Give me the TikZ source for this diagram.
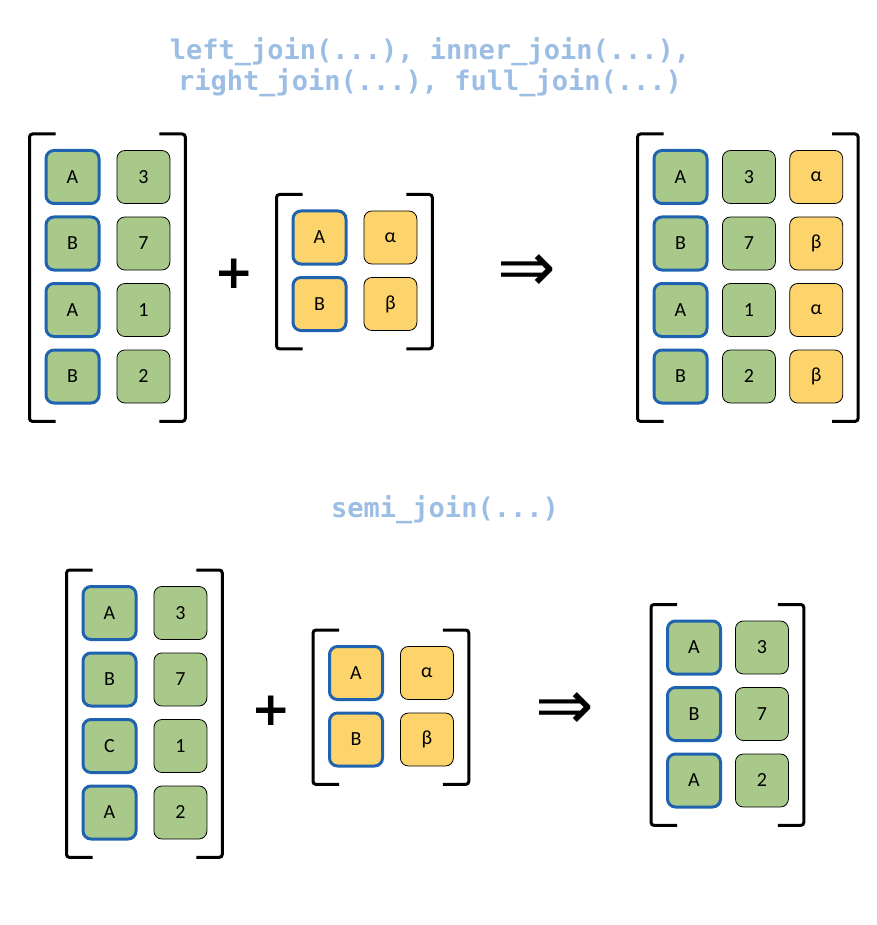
\documentclass[tikz,border=0pt]{standalone}
\usepackage{fontspec}
\setmainfont{Carlito}
\newfontfamily\codefont{DejaVu Sans Mono}
\newfontfamily\symfont{DejaVu Sans}
\usetikzlibrary{positioning,calc}

\definecolor{keyblue}{RGB}{31,99,176}
\definecolor{cellgreen}{RGB}{169,201,139}
\definecolor{cellyellow}{RGB}{253,212,108}
\definecolor{titleblue}{RGB}{157,190,228}

\tikzset{
  cell/.style={rectangle, rounded corners=8pt, minimum size=53pt, inner sep=0pt,
    font=\fontsize{20}{24}\selectfont},
  key/.style={cell, draw=keyblue, line width=3pt, fill=cellgreen},
  val/.style={cell, draw=black, line width=0.8pt, fill=cellgreen},
  extkey/.style={cell, draw=keyblue, line width=3pt, fill=cellyellow},
  ext/.style={cell, draw=black, line width=0.8pt, fill=cellyellow},
  brk/.style={line width=3pt, rounded corners=3pt},
  fname/.style={font=\codefont\bfseries\fontsize{27}{31}\selectfont,
    text=titleblue, align=center},
  plusop/.style={font=\symfont\bfseries\fontsize{47}{47}\selectfont, inner sep=0pt},
  arrowop/.style={font=\symfont\fontsize{70}{70}\selectfont, inner sep=0pt},
}

% brackets round a table, from its first to its last cell
\newcommand{\matbrackets}[2]{%
  \coordinate (tl) at ($(#1.north west)+(-15,-15)$);
  \coordinate (br) at ($(#2.south east)+(15,18)$);
  \draw[brk] ($(tl)+(26,0)$) -- (tl) -- (tl|-br) -- ++(26,0);
  \draw[brk] ($(br|-tl)+(-26,0)$) -- (br|-tl) -- (br) -- ++(-26,0);
}

\begin{document}
\begin{tikzpicture}[x=1pt, y=-1pt, node distance=10.5pt and 16pt]
\useasboundingbox (0,0) rectangle (876,925);

\node[fname] (joins) at (430,67.5)
  {left\_join(...), inner\_join(...),\\right\_join(...), full\_join(...)};

% left table
\node[key] (a1) at (72.5,177) {A};
\node[key, below=of a1] (a2) {B};
\node[key, below=of a2] (a3) {A};
\node[key, below=of a3] (a4) {B};
\node[val, right=of a1] (n1) {3};
\node[val, right=of a2] (n2) {7};
\node[val, right=of a3] (n3) {1};
\node[val, right=of a4] (n4) {2};
\matbrackets{a1}{n4}

\node[plusop] (plus1) at (234.5,273.5) {+};

% lookup table
\node[extkey] (b1) at (319.5,237.5) {A};
\node[extkey, below=of b1] (b2) {B};
\node[ext, right=of b1] (g1) {α};
\node[ext, right=of b2] (g2) {β};
\matbrackets{b1}{g2}

\node[arrowop] (to1) at (527,273) {⇒};

% joined table
\node[key] (c1) at (680.5,177) {A};
\node[key, below=of c1] (c2) {B};
\node[key, below=of c2] (c3) {A};
\node[key, below=of c3] (c4) {B};
\node[val, right=13.5pt of c1] (m1) {3};
\node[val, right=13.5pt of c2] (m2) {7};
\node[val, right=13.5pt of c3] (m3) {1};
\node[val, right=13.5pt of c4] (m4) {2};
\node[ext, right=13.5pt of m1] (h1) {α};
\node[ext, right=13.5pt of m2] (h2) {β};
\node[ext, right=13.5pt of m3] (h3) {α};
\node[ext, right=13.5pt of m4] (h4) {β};
\matbrackets{c1}{h4}

\node[fname] (semi) at (445,509.5) {semi\_join(...)};

% left table
\node[key] (d1) at (109.5,613) {A};
\node[key, below=of d1] (d2) {B};
\node[key, below=of d2] (d3) {C};
\node[key, below=of d3] (d4) {A};
\node[val, right=of d1] (k1) {3};
\node[val, right=of d2] (k2) {7};
\node[val, right=of d3] (k3) {1};
\node[val, right=of d4] (k4) {2};
\matbrackets{d1}{k4}

\node[plusop] (plus2) at (271,711) {+};

% lookup table
\node[extkey] (e1) at (356,673) {A};
\node[extkey, below=of e1] (e2) {B};
\node[ext, right=of e1] (f1) {α};
\node[ext, right=of e2] (f2) {β};
\matbrackets{e1}{f2}

\node[arrowop] (to2) at (565,711) {⇒};

% filtered table
\node[key] (r1) at (694,647.5) {A};
\node[key, below=of r1] (r2) {B};
\node[key, below=of r2] (r3) {A};
\node[val, right=13pt of r1] (s1) {3};
\node[val, right=13pt of r2] (s2) {7};
\node[val, right=13pt of r3] (s3) {2};
\matbrackets{r1}{s3}
\end{tikzpicture}
\end{document}
